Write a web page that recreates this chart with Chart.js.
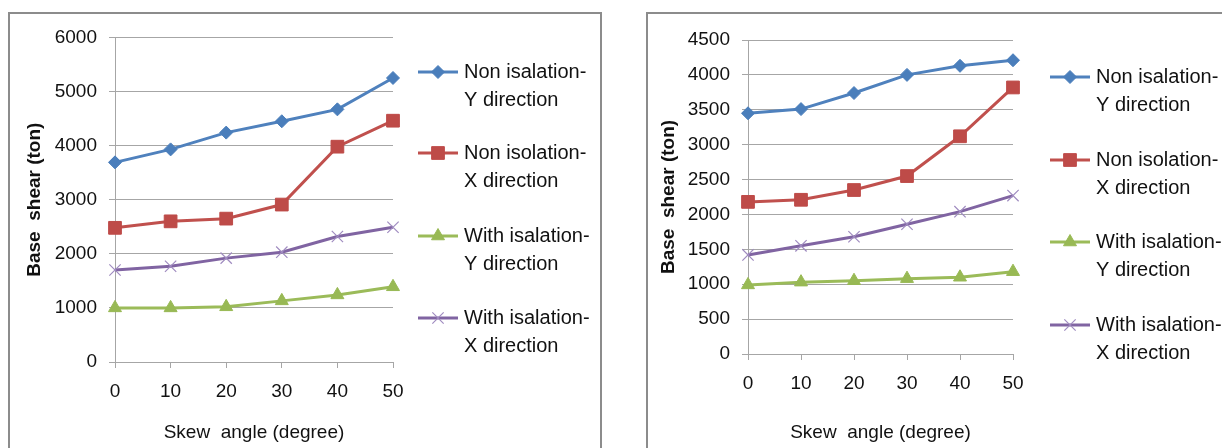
<!DOCTYPE html>
<html>
<head>
  <meta charset="utf-8">
  <title>Base shear vs skew angle</title>
  <script src="https://cdn.jsdelivr.net/npm/chart.js@4"></script>
  <style>
    body { margin: 0; background: #fff; width: 1222px; height: 448px; overflow: hidden; position: relative; }
    .frame { position: absolute; border: 2px solid #8c8c8c; border-bottom: none; box-sizing: border-box; }
    .box { position: absolute; }
  </style>
</head>
<body>
  <div class="frame" style="left:8px; top:12px; width:594px; height:440px;"></div>
  <div class="frame" style="left:646px; top:12px; width:590px; height:440px;"></div>
  <div class="box" style="left:10px; top:14px; width:590px; height:434px;"><canvas id="left-chart"></canvas></div>
  <div class="box" style="left:648px; top:14px; width:574px; height:434px;"><canvas id="right-chart"></canvas></div>
<script>
  // data
  var angles = ['0', '10', '20', '30', '40', '50'];
  var seriesNames = [
    ['Non isalation-', 'Y direction'],
    ['Non isolation-', 'X direction'],
    ['With isalation-', 'Y direction'],
    ['With isalation-', 'X direction']
  ];

  var leftNonY  = [3690, 3930, 4240, 4450, 4670, 5250];
  var leftNonX  = [2480, 2600, 2650, 2910, 3980, 4460];
  var leftWithY = [1000, 1000, 1020, 1130, 1240, 1390];
  var leftWithX = [1700, 1770, 1920, 2030, 2320, 2490];

  var rightNonY  = [3450, 3510, 3740, 4000, 4130, 4210];
  var rightNonX  = [2180, 2210, 2350, 2550, 3120, 3820];
  var rightWithY = [990, 1030, 1050, 1080, 1100, 1180];
  var rightWithX = [1420, 1550, 1680, 1860, 2040, 2270];

  var fontFam = "'Liberation Sans', Arial, sans-serif";
  var gridCol = '#a6a6a6';

  var styles = [
    { line: '#4f81bd', fill: '#4a7ebb', point: 'rectRot', r: 6.5 },
    { line: '#c0504d', fill: '#be4b48', point: 'rect', r: 9 },
    { line: '#9bbb59', fill: '#98b954', point: 'triangle', r: 7.5 },
    { line: '#8064a2', fill: '#a08cc0', point: 'crossRot', r: 8 }
  ];

  function makeSets(arrs) {
    return arrs.map(function (d, i) {
      var s = styles[i];
      return {
        label: seriesNames[i].join(' '),
        data: d,
        borderColor: s.line,
        borderWidth: 3,
        pointStyle: s.point,
        pointRadius: s.r,
        pointBackgroundColor: s.fill,
        pointBorderColor: s.fill,
        pointBorderWidth: s.point == 'crossRot' ? 1.2 : 1,
        tension: 0
      };
    });
  }

  // legend drawn on the canvas, two lines per entry
  var sideLegend = {
    id: 'sideLegend',
    afterDraw: function (chart, args, opts) {
      var ctx = chart.ctx;
      ctx.save();
      ctx.font = '20px ' + fontFam;
      ctx.textBaseline = 'middle';
      chart.data.datasets.forEach(function (ds, i) {
        var y = opts.ys[i];
        var s = styles[i];
        ctx.strokeStyle = s.line;
        ctx.lineWidth = 3;
        ctx.beginPath();
        ctx.moveTo(opts.x, y);
        ctx.lineTo(opts.x + 40, y);
        ctx.stroke();
        ctx.fillStyle = s.fill;
        ctx.strokeStyle = s.fill;
        ctx.lineWidth = ds.pointBorderWidth;
        Chart.helpers.drawPoint(ctx, { pointStyle: s.point, radius: s.r, rotation: 0, borderWidth: ds.pointBorderWidth }, opts.x + 20, y);
        ctx.fillStyle = '#111';
        ctx.fillText(seriesNames[i][0], opts.x + 46, y);
        ctx.fillText(seriesNames[i][1], opts.x + 46, y + 28);
      });
      ctx.restore();
    }
  };

  function makeChart(id, arrs, yMax, step, yW, xH, padTop, padRight, legX, legYs, yTitlePad) {
    return new Chart(document.getElementById(id), {
      type: 'line',
      data: { labels: angles, datasets: makeSets(arrs) },
      plugins: [sideLegend],
      options: {
        responsive: true,
        maintainAspectRatio: false,
        animation: false,
        layout: { padding: { top: padTop, right: padRight, left: 0, bottom: 0 } },
        plugins: {
          legend: { display: false },
          tooltip: { enabled: false },
          sideLegend: { x: legX, ys: legYs }
        },
        scales: {
          x: {
            offset: false,
            grid: { drawOnChartArea: false, drawTicks: true, tickLength: 6, color: gridCol },
            border: { color: gridCol, width: 1 },
            ticks: { color: '#111', font: { family: fontFam, size: 19 }, padding: 12, maxRotation: 0 },
            title: { display: true, text: 'Skew  angle (degree)', color: '#111', font: { family: fontFam, size: 19 }, padding: { top: 14 } },
            afterFit: function (sc) { sc.height = xH; }
          },
          y: {
            min: 0, max: yMax,
            ticks: {
              stepSize: step, color: '#111', font: { family: fontFam, size: 19 }, padding: 12,
              callback: function (v) { return String(v); }
            },
            grid: { color: gridCol, tickLength: 6 },
            border: { color: gridCol, width: 1 },
            title: { display: true, text: 'Base  shear (ton)', color: '#111', font: { family: fontFam, size: 19, weight: 'bold' }, padding: { top: yTitlePad, bottom: 0 } },
            afterFit: function (sc) { sc.width = yW; }
          }
        }
      }
    });
  }

  makeChart('left-chart', [leftNonY, leftNonX, leftWithY, leftWithX], 6000, 1000,
    105, 86, 21, 207, 408, [58, 139, 222, 304], 13);
  makeChart('right-chart', [rightNonY, rightNonX, rightWithY, rightWithX], 4500, 500,
    100, 94, 26, 209, 402, [63, 146, 228, 311], 9);
</script>
</body>
</html>
